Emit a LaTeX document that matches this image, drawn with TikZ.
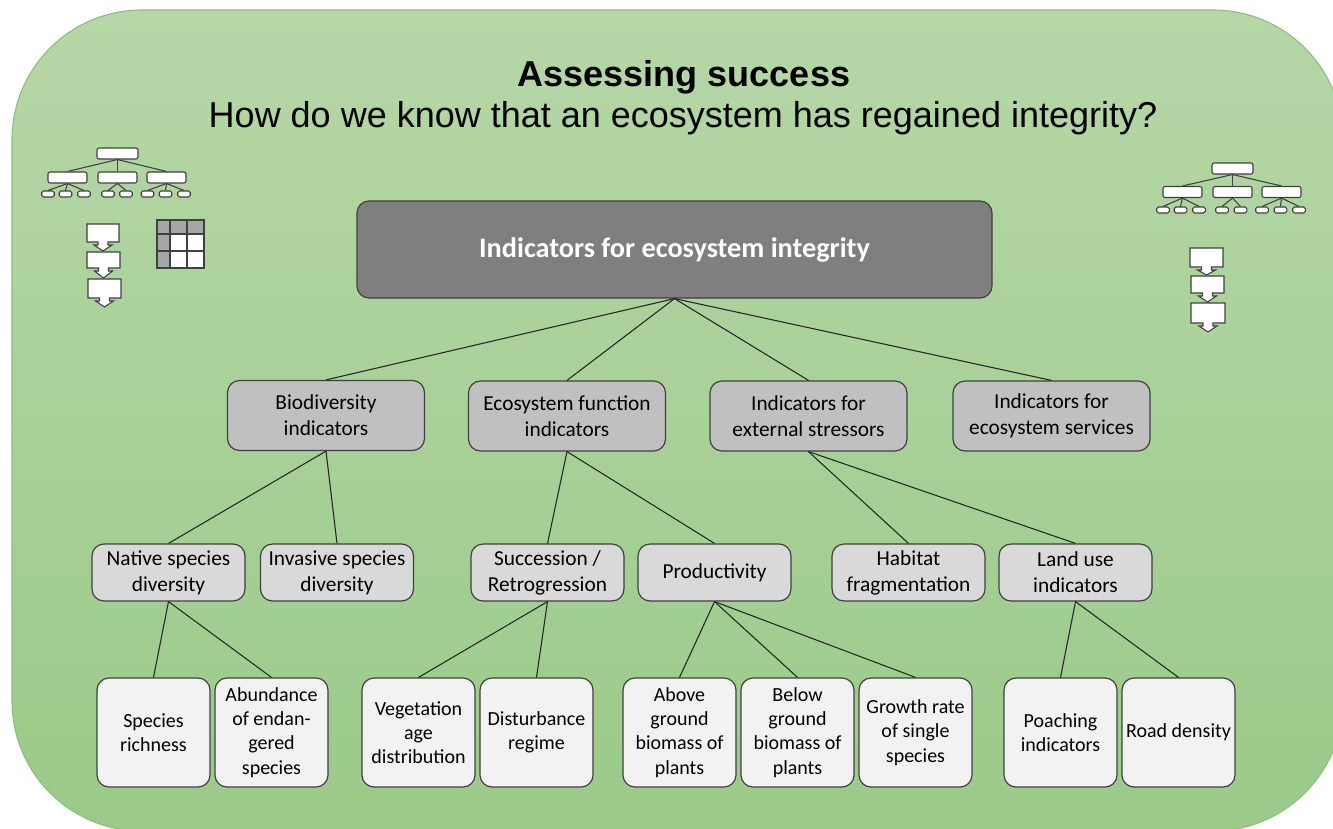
\documentclass[tikz,border=0pt]{standalone}
\usepackage{fontspec}
\setmainfont{Carlito}
\newfontfamily\arialfont{Liberation Sans}
\definecolor{bgtop}{RGB}{182,215,167}
\definecolor{bgbot}{RGB}{155,202,137}
\definecolor{bgline}{RGB}{140,190,120}
\definecolor{boxline}{RGB}{64,64,64}
\definecolor{topgray}{RGB}{127,127,127}
\definecolor{ltwo}{RGB}{192,192,192}
\definecolor{lthree}{RGB}{217,217,217}
\definecolor{lfour}{RGB}{242,242,242}
\definecolor{icgray}{RGB}{166,166,166}
\tikzset{
  box/.style={draw=boxline, line width=0.9pt, rounded corners=9pt, align=center, inner sep=2pt, text=black},
  topbox/.style={box, fill=topgray, minimum width=476.25pt, minimum height=72.75pt, font=\fontsize{21.2}{25}\selectfont\bfseries, text=white},
  lvtwo/.style={box, fill=ltwo, minimum width=147.75pt, minimum height=52.5pt, font=\fontsize{16}{19.5}\selectfont},
  lvthree/.style={box, fill=lthree, minimum width=114.75pt, minimum height=42.75pt, font=\fontsize{16}{19.5}\selectfont},
  lvfour/.style={box, fill=lfour, minimum width=84.75pt, minimum height=81.75pt, font=\fontsize{15}{18.2}\selectfont},
  edge/.style={draw=black!85, line width=0.8pt},
  icline/.style={draw=boxline, line width=0.8pt},
  icbig/.style={icline, fill=white, rounded corners=1.5pt, inner sep=0pt, minimum width=30.75pt, minimum height=8.25pt},
  icmid/.style={icline, fill=white, rounded corners=1.5pt, inner sep=0pt, minimum width=29.25pt, minimum height=8.25pt},
  icsmall/.style={icline, fill=white, rounded corners=1.2pt, inner sep=0pt, minimum width=9.4pt, minimum height=4.5pt},
}
\newcommand\flowbox[5]{% x1 y1 x2 y2 tip
  \draw[icline, fill=white] (#1,#2) -- (#3,#2) -- (#3,#4) -- ({(#1+#3)/2+5},#4) -- ({(#1+#3)/2+5},{#4+3}) -- ({(#1+#3)/2+9},{#4+3}) -- ({(#1+#3)/2},#5) -- ({(#1+#3)/2-9},{#4+3}) -- ({(#1+#3)/2-5},{#4+3}) -- ({(#1+#3)/2-5},#4) -- (#1,#4) -- cycle;}
\begin{document}
\begin{tikzpicture}[x=0.75pt, y=-0.75pt]
\useasboundingbox (0,0) rectangle (1333,828);
\begin{scope}
\clip (0,0) rectangle (1333,828);
\shadedraw[top color=bgtop, bottom color=bgbot, draw=bgline, line width=0.8pt, rounded corners=97.5pt] (12,10) rectangle (1343,831);
\end{scope}

% titles
\node[anchor=base, font=\arialfont\fontsize{27}{32}\selectfont\bfseries] (title) at (684,86) {Assessing success};
\node[anchor=base, font=\arialfont\fontsize{27}{32}\selectfont] (subtitle) at (683,127) {How do we know that an ecosystem has regained integrity?};

% main tree
\node[topbox] (top) at (674.5,249.5) {Indicators for ecosystem integrity};

\node[lvtwo] (bio) at (326,415.5) {Biodiversity\\indicators};
\node[lvtwo] (eco) at (567,416) {Ecosystem function\\indicators};
\node[lvtwo] (ext) at (808.5,416) {Indicators for\\external stressors};
\node[lvtwo] (ser) at (1051.5,416) {Indicators for\\ecosystem services};

\node[lvthree] (nat) at (168.5,572.5) {Native species\\diversity};
\node[lvthree] (inv) at (337,572.5) {Invasive species\\diversity};
\node[lvthree] (suc) at (547.5,572.5) {Succession /\\Retrogression};
\node[lvthree] (pro) at (714.5,572.5) {Productivity};
\node[lvthree] (hab) at (908.5,572.5) {Habitat\\fragmentation};
\node[lvthree] (lan) at (1075.5,572.5) {Land use\\indicators};

\node[lvfour] (ric) at (153.5,732.5) {Species\\richness};
\node[lvfour] (abu) at (271.5,732.5) {Abundance\\of endan-\\gered\\species};
\node[lvfour] (veg) at (418.5,732.5) {Vegetation\\age\\distribution};
\node[lvfour] (dis) at (536.5,732.5) {Disturbance\\regime};
\node[lvfour] (abo) at (679.5,732.5) {Above\\ground\\biomass of\\plants};
\node[lvfour] (bel) at (797.5,732.5) {Below\\ground\\biomass of\\plants};
\node[lvfour] (gro) at (915.5,732.5) {Growth rate\\of single\\species};
\node[lvfour] (poa) at (1060.5,732.5) {Poaching\\indicators};
\node[lvfour] (roa) at (1178.5,732.5) {Road density};

\foreach \c in {bio,eco,ext,ser} \draw[edge] (top.south) -- (\c.north);
\foreach \c in {nat,inv} \draw[edge] (bio.south) -- (\c.north);
\foreach \c in {suc,pro} \draw[edge] (eco.south) -- (\c.north);
\foreach \c in {hab,lan} \draw[edge] (ext.south) -- (\c.north);
\foreach \c in {ric,abu} \draw[edge] (nat.south) -- (\c.north);
\foreach \c in {veg,dis} \draw[edge] (suc.south) -- (\c.north);
\foreach \c in {abo,bel,gro} \draw[edge] (pro.south) -- (\c.north);
\foreach \c in {poa,roa} \draw[edge] (lan.south) -- (\c.north);

% left org-chart icon
\node[icbig] (la) at (117.5,153.5) {};
\node[icmid] (lb1) at (67.5,177.5) {};
\node[icmid] (lb2) at (117.5,177.5) {};
\node[icmid] (lb3) at (166.5,177.5) {};
\node[icsmall] (lc1) at (48,194) {};
\node[icsmall] (lc2) at (65.5,194) {};
\node[icsmall] (lc3) at (84,194) {};
\node[icsmall] (lc4) at (108,194) {};
\node[icsmall] (lc5) at (126,194) {};
\node[icsmall] (lc6) at (147.5,194) {};
\node[icsmall] (lc7) at (165.5,194) {};
\node[icsmall] (lc8) at (184,194) {};
\foreach \c in {lb1,lb2,lb3} \draw[icline] (la.south) -- (\c.north);
\foreach \c in {lc1,lc2,lc3} \draw[icline] (lb1.south) -- (\c.north);
\foreach \c in {lc4,lc5} \draw[icline] (lb2.south) -- (\c.north);
\foreach \c in {lc6,lc7,lc8} \draw[icline] (lb3.south) -- (\c.north);

% left flow icon
\flowbox{88}{279}{121}{298}{307}
\flowbox{87}{252}{120}{268}{278}
\flowbox{87}{224}{119}{242}{251}

% left grid icon
\fill[white] (157,220) rectangle (204,268);
\fill[icgray] (157,220) rectangle (204,234);
\fill[icgray] (157,220) rectangle (170,268);
\draw[icline] (157,220) rectangle (204,268);
\draw[icline] (170,220) -- (170,268) (187,220) -- (187,268) (157,234) -- (204,234) (157,251) -- (204,251);

% right org-chart icon
\node[icbig] (ra) at (1232.5,168.5) {};
\node[icmid] (rb1) at (1182.5,192) {};
\node[icmid] (rb2) at (1232.5,192) {};
\node[icmid] (rb3) at (1281.5,192) {};
\node[icsmall] (rc1) at (1163,210) {};
\node[icsmall] (rc2) at (1180.5,210) {};
\node[icsmall] (rc3) at (1199,210) {};
\node[icsmall] (rc4) at (1222,210) {};
\node[icsmall] (rc5) at (1240.5,210) {};
\node[icsmall] (rc6) at (1262,210) {};
\node[icsmall] (rc7) at (1280.5,210) {};
\node[icsmall] (rc8) at (1299,210) {};
\foreach \c in {rb1,rb2,rb3} \draw[icline] (ra.south) -- (\c.north);
\foreach \c in {rc1,rc2,rc3} \draw[icline] (rb1.south) -- (\c.north);
\foreach \c in {rc4,rc5} \draw[icline] (rb2.south) -- (\c.north);
\foreach \c in {rc6,rc7,rc8} \draw[icline] (rb3.south) -- (\c.north);

% right flow icon
\flowbox{1191}{303}{1225}{323}{332}
\flowbox{1191}{276}{1224}{293}{302}
\flowbox{1190}{248}{1223}{267}{275}
\end{tikzpicture}
\end{document}
